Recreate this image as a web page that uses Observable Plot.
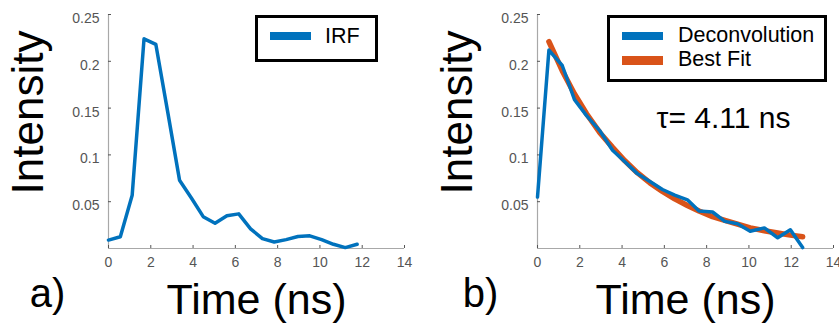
<!DOCTYPE html>
<html><head><meta charset="utf-8">
<script src="https://cdn.jsdelivr.net/npm/d3@7"></script>
<script src="https://cdn.jsdelivr.net/npm/@observablehq/plot@0.6"></script>
<style>
body{margin:0;background:#fff;font-family:"Liberation Sans",Arial,sans-serif;}
#wrap{position:relative;width:839px;height:325px;overflow:hidden;}
.panel{position:absolute;top:0;}
.legend{position:absolute;border:3px solid #000;box-sizing:border-box;background:#fff;}
.sw{position:absolute;}
.lt{position:absolute;font-size:21.5px;line-height:21px;color:#000;white-space:nowrap;}
</style></head><body>
<div id="wrap"></div>
<script>
// Panel a) IRF
const irfTime = [0, 0.56, 1.12, 1.68, 2.24, 2.8, 3.36, 3.92, 4.48, 5.04, 5.6, 6.16, 6.72, 7.28, 7.84, 8.4, 8.96, 9.52, 10.08, 10.64, 11.2, 11.76];
const irfIntensity = [0.009, 0.0125, 0.057, 0.224, 0.218, 0.146, 0.073, 0.054, 0.034, 0.027, 0.035, 0.037, 0.021, 0.0105, 0.007, 0.0095, 0.0128, 0.0135, 0.0095, 0.0045, 0.001, 0.0045];
// Panel b) Deconvolution and best fit
const decTime = [0, 0.54, 1.17, 1.75, 2.32, 2.94, 3.55, 4.12, 4.72, 5.32, 5.91, 6.49, 7.09, 7.64, 8.28, 8.86, 9.46, 10.06, 10.73, 11.36, 11.96, 12.54];
const decIntensity = [0.055, 0.212, 0.1955, 0.159, 0.142, 0.126, 0.105, 0.093, 0.080, 0.0715, 0.063, 0.057, 0.052, 0.040, 0.039, 0.029, 0.0265, 0.0185, 0.022, 0.0115, 0.020, 0.001];
const fitTime = [0.54, 1.17, 1.75, 2.32, 2.94, 3.55, 4.12, 4.72, 5.32, 5.91, 6.49, 7.09, 7.64, 8.28, 8.86, 9.46, 10.06, 10.73, 11.36, 11.96, 12.54];
const fitIntensity = [0.221, 0.19, 0.165, 0.144, 0.124, 0.108, 0.094, 0.081, 0.070, 0.061, 0.053, 0.046, 0.040, 0.034, 0.030, 0.026, 0.022, 0.019, 0.0165, 0.0143, 0.0125];
const xTicks = [0, 2, 4, 6, 8, 10, 12, 14];
const yTicks = [0.05, 0.1, 0.15, 0.2, 0.25];
const xLabel = "Time (ns)";
const yLabel = "Intensity";
const panelLabels = ["a)", "b)"];
const tauText = "τ= 4.11 ns";
const legendA = ["IRF"];
const legendB = ["Deconvolution", "Best Fit"];
const blue = "#0072BD", orange = "#D95319";

const irf = irfTime.map((t, i) => ({t, v: irfIntensity[i]}));
const dec = decTime.map((t, i) => ({t, v: decIntensity[i]}));
const fit = fitTime.map((t, i) => ({t, v: fitIntensity[i]}));

const H = 325, MT = 14, MB = 77;
function panel({width, marginLeft, marginRight, lines, label, labelDx, extra = []}) {
  const fw = width - marginLeft - marginRight, fh = H - MT - MB;
  return Plot.plot({
    width, height: H, marginLeft, marginRight, marginTop: MT, marginBottom: MB,
    style: {fontFamily: '"Liberation Sans", Arial, sans-serif', color: "#555", background: "transparent", overflow: "visible"},
    x: {domain: [0, 14]},
    y: {domain: [0, 0.25]},
    marks: [
      Plot.ruleY([0], {stroke: "#a8a8a8", strokeWidth: 1.2}),
      Plot.ruleX([0], {stroke: "#a8a8a8", strokeWidth: 1.2}),
      Plot.ruleX(xTicks, {stroke: "#555", insetTop: fh - 3}),
      Plot.ruleY(yTicks, {stroke: "#555", insetRight: fw - 3}),
      Plot.axisX(xTicks, {tickSize: 0, tickPadding: 9, fontSize: 14, label: null, tickFormat: d => String(d)}),
      Plot.axisY(yTicks, {tickSize: 0, tickPadding: 9, fontSize: 14, label: null, dy: 4, tickFormat: d => String(d)}),
      ...lines,
      ...extra,
      Plot.text([xLabel], {text: d => d, frameAnchor: "bottom", dy: 52, fontSize: 43, fill: "#000", lineAnchor: "middle", textAnchor: "middle"}),
      Plot.text([yLabel], {text: d => d, frameAnchor: "left", rotate: -90, dx: -80, dy: -19, fontSize: 44, fill: "#000", lineAnchor: "middle", textAnchor: "middle"}),
      Plot.text([label], {text: d => d, frameAnchor: "bottom-left", dx: labelDx, dy: 46, fontSize: 40, fill: "#000", lineAnchor: "middle", textAnchor: "middle"})
    ]
  });
}

const wrap = document.getElementById("wrap");
function place(node, left) {
  const d = document.createElement("div");
  d.className = "panel";
  d.style.left = left + "px";
  d.appendChild(node);
  wrap.appendChild(d);
}

place(panel({
  width: 420, marginLeft: 108, marginRight: 16, label: panelLabels[0], labelDx: -61,
  lines: [Plot.line(irf, {x: "t", y: "v", stroke: blue, strokeWidth: 3.5})]
}), 0);

place(panel({
  width: 419, marginLeft: 117, marginRight: 6, label: panelLabels[1], labelDx: -57,
  lines: [
    Plot.line(fit, {x: "t", y: "v", stroke: orange, strokeWidth: 5.5}),
    Plot.line(dec, {x: "t", y: "v", stroke: blue, strokeWidth: 3.5})
  ],
  extra: [Plot.text([tauText], {text: d => d, frameAnchor: "top-left", dx: 186, dy: 104, fontSize: 30, fill: "#000", lineAnchor: "middle", textAnchor: "middle"})]
}), 420);

function legend(box, items) {
  const b = document.createElement("div");
  b.className = "legend";
  Object.assign(b.style, {left: box.left + "px", top: box.top + "px", width: box.w + "px", height: box.h + "px"});
  for (const it of items) {
    const s = document.createElement("div");
    s.className = "sw";
    Object.assign(s.style, {left: it.sx + "px", top: it.sy + "px", width: "41px", height: it.sh + "px", background: it.color});
    b.appendChild(s);
    const t = document.createElement("div");
    t.className = "lt";
    t.textContent = it.text;
    Object.assign(t.style, {left: it.tx + "px", top: it.ty + "px"});
    b.appendChild(t);
  }
  wrap.appendChild(b);
}
legend({left: 255, top: 15, w: 123, h: 47}, [
  {text: legendA[0], color: blue, sx: 12, sy: 14, sh: 8, tx: 67, ty: 8}
]);
legend({left: 607, top: 15, w: 220, h: 67}, [
  {text: legendB[0], color: blue, sx: 12, sy: 14, sh: 8, tx: 68, ty: 7},
  {text: legendB[1], color: orange, sx: 12, sy: 38, sh: 9, tx: 68, ty: 30.5}
]);
</script>
</body></html>
